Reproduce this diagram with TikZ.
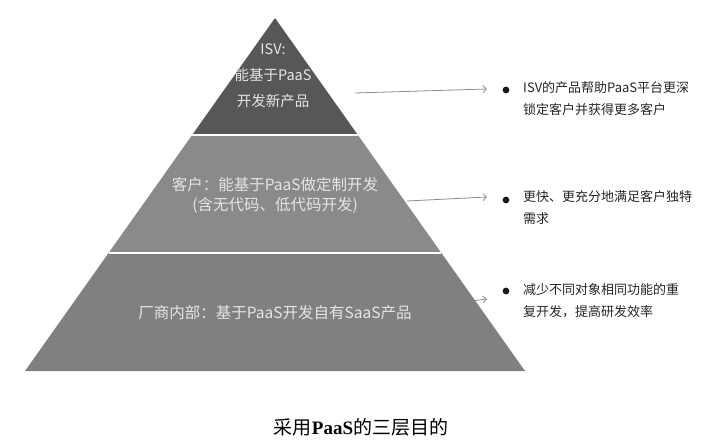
\documentclass[tikz,border=0pt]{standalone}
\usepackage{fontspec}
\setmainfont{Liberation Serif}
\newfontfamily\cjk{Noto Sans CJK SC}
\usetikzlibrary{calc, arrows.meta}

\tikzset{
  layertext/.style={text=white!90!black, align=center, inner sep=0pt},
  notetext/.style={text=black!85, font=\cjk\fontsize{13}{22}\selectfont, align=left, anchor=west, inner sep=0pt},
  pointer/.style={draw=black!45, line width=0.8pt, -{Straight Barb[length=3.5pt,width=7pt]}},
}

\begin{document}
\begin{tikzpicture}[x=1pt,y=-1pt]
    			\useasboundingbox (0,0) rectangle (705,447);
    			\coordinate (apex) at (275,18);
    			\coordinate (bl) at (25,371);
    			\coordinate (br) at (525,371);
    			\coordinate (ul) at ($(apex)!0.3314!(bl)$);
    			\coordinate (ur) at ($(apex)!0.3314!(br)$);
    			\coordinate (ml) at ($(apex)!0.6657!(bl)$);
    			\coordinate (mr) at ($(apex)!0.6657!(br)$);
    			
    			\fill[black!66] (apex) -- (ur) -- (ul) -- cycle;
    			\fill[black!46] (ul) -- (ur) -- (mr) -- (ml) -- cycle;
    			\fill[black!50] (ml) -- (mr) -- (br) -- (bl) -- cycle;
    			\draw[white, line width=1.6pt] (ul) -- (ur) (ml) -- (mr);
    			
    			\node[layertext, font=\cjk\fontsize{14.5}{26}\selectfont] (isv) at (273,76) {ISV:\\能基于PaaS\\开发新产品};
    			\node[layertext, font=\cjk\fontsize{15.5}{20}\selectfont] (kehu) at (275,195) {客户：能基于PaaS做定制开发\\(含无代码、低代码开发)};
    			\node[layertext, font=\cjk\fontsize{15.5}{20}\selectfont] (changshang) at (275,313) {厂商内部：基于PaaS开发自有SaaS产品};
    			
    			\node[notetext] (isvnote) at (523,99) {ISV的产品帮助PaaS平台更深\\锁定客户并获得更多客户};
    			\node[notetext] (kehunote) at (523,208) {更快、更充分地满足客户独特\\需求};
    			\node[notetext] (changshangnote) at (523,301) {减少不同对象相同功能的重\\复开发，提高研发效率};
    			\foreach \y in {90,200,291}{
    				\fill[black!90] (506,\y) circle (3.4pt);
    			}
    			
    			\coordinate (a1) at (355,93);
    			\coordinate (b1) at (487,89);
    			\coordinate (a2) at (407,201);
    			\coordinate (b2) at (487,197);
    			\coordinate (a3) at (472,301);
    			\coordinate (b3) at (487,299);
    			\draw[pointer] (a1) -- (b1);
    			\draw[pointer] (a2) -- (b2);
    			\draw[pointer] (a3) -- (b3);
    			
    			\node[inner sep=0pt, font=\cjk\fontsize{19}{19}\selectfont] (caption) at (361,427) {采用\textbf{\rmfamily PaaS}的三层目的};
    		\end{tikzpicture}
\end{document}
